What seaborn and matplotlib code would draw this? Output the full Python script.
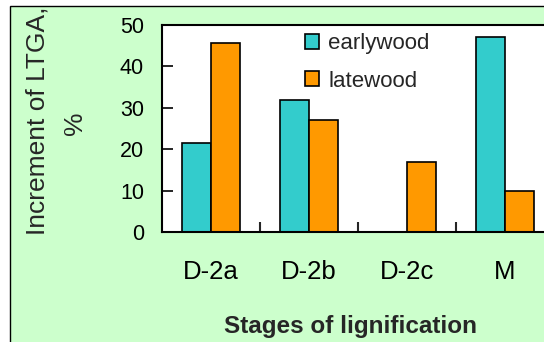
import numpy as np
import pandas as pd
import matplotlib
matplotlib.use('Agg')
import matplotlib.pyplot as plt
from matplotlib.patches import Rectangle
import seaborn as sns

# Data
STAGES = ['D-2a', 'D-2b', 'D-2c', 'M']
EARLYWOOD = [21.4, 32.0, 0.0, 47.2]
LATEWOOD = [45.6, 27.0, 16.8, 10.0]
SERIES = ['earlywood', 'latewood']
COLORS = ['#33CCCC', '#FF9900']
Y_TICKS = [0, 10, 20, 30, 40, 50]

sns.set_theme(style='white')
plt.rcParams['font.family'] = ['Liberation Sans', 'DejaVu Sans']

df = pd.DataFrame({
    'stage': STAGES * 2,
    'value': EARLYWOOD + LATEWOOD,
    'wood': [SERIES[0]] * len(STAGES) + [SERIES[1]] * len(STAGES),
})

W, H = 544, 342
fig = plt.figure(figsize=(W / 100, H / 100), dpi=100, facecolor='white')

# green panel with black border (cropped on right/bottom)
fig.patches.append(Rectangle((10 / W, -0.1), 1.2, 1 - 6 / H + 0.1, transform=fig.transFigure,
                             facecolor='#CCFFCC', edgecolor='black', lw=1, zorder=-1))

ax = fig.add_axes([162 / W, 1 - 232 / H, 392 / W, 207 / H])
ax.set_facecolor('white')

sns.barplot(data=df, x='stage', y='value', hue='wood', order=STAGES, hue_order=SERIES,
            palette=COLORS, width=0.6, edgecolor='black', linewidth=1.2, saturation=1,
            ax=ax)

ax.set_xlim(-0.5, 3.5)
ax.set_ylim(0, 50)
ax.set_yticks(Y_TICKS)
ax.set_xlabel('')
ax.set_ylabel('')
for s in ax.spines.values():
    s.set_visible(True)
    s.set_color('black')
    s.set_linewidth(1.5)

ax.tick_params(axis='y', direction='in', length=8, width=1.2, pad=13, labelsize=15.5,
               colors='black', left=True)
ax.tick_params(axis='x', which='major', length=0, pad=20, labelsize=18.5, colors='black')
ax.set_xticks([0.5, 1.5, 2.5], minor=True)
ax.tick_params(axis='x', which='minor', direction='in', length=7, width=1.5, bottom=True)

ax.legend(loc='upper left', bbox_to_anchor=(305 / W, 1 - 33 / H), bbox_transform=fig.transFigure,
          frameon=False, fontsize=16, borderpad=0, borderaxespad=0, handlelength=0.65,
          handleheight=0.65, handletextpad=0.4, labelspacing=0.75)

fig.text(45 / W, 1 - 121 / H, 'Increment of LTGA,', rotation=90, rotation_mode='anchor',
         ha='center', va='baseline', fontsize=19)
fig.text(82 / W, 1 - 123 / H, '%', rotation=90, rotation_mode='anchor',
         ha='center', va='baseline', fontsize=19)
fig.text(351 / W, 1 - 333 / H, 'Stages of lignification', ha='center', va='baseline',
         fontsize=17.5, fontweight='bold')

fig.savefig('out.png', dpi=100, facecolor='white')
